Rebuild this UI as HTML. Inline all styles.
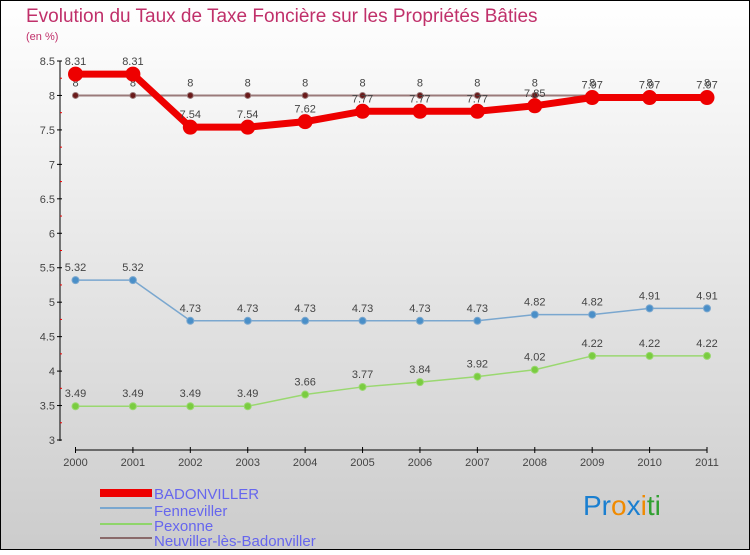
<!DOCTYPE html>
<html><head><meta charset="utf-8"><style>
body{margin:0}
#c{width:750px;height:550px;position:relative;font-family:"Liberation Sans",sans-serif}
</style></head><body>
<div id="c">
<svg id="s" width="750" height="550" xmlns="http://www.w3.org/2000/svg">
<defs><linearGradient id="bg" x1="0" y1="0" x2="0" y2="1"><stop offset="0" stop-color="#ffffff"/><stop offset="1" stop-color="#cccccc"/></linearGradient></defs>
<rect x="0.5" y="0.5" width="749" height="549" fill="url(#bg)" stroke="#000" stroke-width="1"/>
<text x="26" y="22" font-size="19" fill="#c0306a">Evolution du Taux de Taxe Foncière sur les Propriétés Bâties</text>
<text x="26" y="40" font-size="11" fill="#c0306a">(en %)</text>
<g id="axes"></g><g id="series"></g>
<g font-size="15" fill="#6666ee">
<rect x="100" y="489" width="52" height="8" fill="#e00"/>
<text x="154" y="499">BADONVILLER</text>
<line x1="100" y1="508" x2="152" y2="508" stroke="#7aa7cf" stroke-width="2"/>
<text x="154" y="516">Fenneviller</text>
<line x1="100" y1="524" x2="152" y2="524" stroke="#8fd56a" stroke-width="2"/>
<text x="154" y="531">Pexonne</text>
<line x1="100" y1="538" x2="152" y2="538" stroke="#8a6a6a" stroke-width="2"/>
<text x="154" y="546">Neuviller-lès-Badonviller</text>
</g>
<text x="583" y="515" font-size="28"><tspan fill="#1a7fd0">Pr</tspan><tspan fill="#f08a00">o</tspan><tspan fill="#1a7fd0">x</tspan><tspan fill="#f08a00">i</tspan><tspan fill="#30a030">ti</tspan></text>
</svg></div>
<script>
const years=[2000,2001,2002,2003,2004,2005,2006,2007,2008,2009,2010,2011];
const badonviller=[8.31,8.31,7.54,7.54,7.62,7.77,7.77,7.77,7.85,7.97,7.97,7.97];
const fenneviller=[5.32,5.32,4.73,4.73,4.73,4.73,4.73,4.73,4.82,4.82,4.91,4.91];
const pexonne=[3.49,3.49,3.49,3.49,3.66,3.77,3.84,3.92,4.02,4.22,4.22,4.22];
const neuviller=[8,8,8,8,8,8,8,8,8,8,8,8];
const yTicks=[3,3.5,4,4.5,5,5.5,6,6.5,7,7.5,8,8.5];
const NS="http://www.w3.org/2000/svg";
const X=i=>75.5+i*(707-75.5)/11;
const Y=v=>440-(v-3)*(379/5.5);
function mk(t,a,p){const e=document.createElementNS(NS,t);for(const k in a)e.setAttribute(k,a[k]);p.appendChild(e);return e;}
const ax=document.getElementById('axes'),sg=document.getElementById('series');
let yl=mk('line',{x1:60,y1:Y(8.5),x2:60,y2:441,stroke:'#000'},ax);


yTicks.forEach((v,k)=>{mk('line',{x1:57,x2:62,y1:Y(v),y2:Y(v),stroke:'#000'},ax);
 if(k<yTicks.length-1)mk('line',{x1:60,x2:62,y1:Y(v+0.25),y2:Y(v+0.25),stroke:'#e00'},ax);
 const t=mk('text',{x:55,y:Y(v)+4,'text-anchor':'end','font-size':11,fill:'#444'},ax);t.textContent=v;
 
 });
let xl=mk('line',{x1:X(0),y1:450,x2:X(11),y2:450,stroke:'#000'},ax);


years.forEach((y,i)=>{mk('line',{x1:X(i),x2:X(i),y1:447,y2:453,stroke:'#000'},ax);
 const t=mk('text',{x:X(i),y:466,'text-anchor':'middle','font-size':11,fill:'#444'},ax);t.textContent=y;
 
 });
function series(name,vals,col,w,r,dot){
 const g=mk('g',{},sg);
 
 
 mk('polyline',{points:vals.map((v,i)=>X(i)+','+Y(v)).join(' '),fill:'none',stroke:col,'stroke-width':w,'stroke-linejoin':'round'},g);
 vals.forEach((v,i)=>{const c=mk('circle',{cx:X(i),cy:Y(v),r:r,fill:dot,stroke:col,'stroke-width':1},g);
  
  
  const t=mk('text',{x:X(i),y:Y(v)-9,'text-anchor':'middle','font-size':11,fill:'#444'},g);t.textContent=v;});
}
series('neuviller',neuviller,'#9a7a7a',2,3,'#6a1a1a');
series('badonviller',badonviller,'#e00',7,7,'#e00');
series('fenneviller',fenneviller,'#7aa7cf',1.5,3.5,'#4a8fc8');
series('pexonne',pexonne,'#9ad870',1.5,3.5,'#7acc40');
</script></body></html>
